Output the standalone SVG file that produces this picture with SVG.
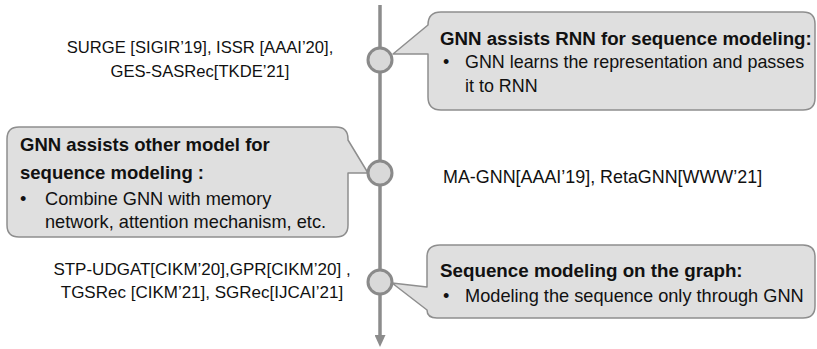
<svg xmlns="http://www.w3.org/2000/svg" width="817" height="349" viewBox="0 0 817 349">
<defs>
<style>
.call{fill:#dfdfdf;stroke:#8e8e8e;stroke-width:1.5;stroke-linejoin:round}
.dot{fill:#d9d9d9;stroke:#8a8a8a;stroke-width:3}
.axis{stroke:#8c8c8c;stroke-width:3.5;fill:none}
text{font-family:"Liberation Sans",Arial,sans-serif;fill:#111}
.b{font-weight:bold}
.m{text-anchor:middle}
</style>
<marker id="arr" viewBox="0 0 12 11" markerUnits="userSpaceOnUse" markerWidth="12" markerHeight="11" refX="1" refY="5.5" orient="auto">
<path d="M0,0 L12,5.5 L0,11 z" fill="#8c8c8c"/>
</marker>
</defs>
<rect width="817" height="349" fill="#ffffff"/>
<g id="connectors">
<line class="axis" x1="380" y1="5" x2="380" y2="336" marker-end="url(#arr)"/>
</g>
<g id="callout-rnn">
<path class="call" d="M441,12 H803 Q815,12 815,24 V98 Q815,110 803,110 H441 Q428,110 428,97 V54 L393,54 L428,25 Q428,12 441,12 Z"/>
<text class="b" x="440" y="45" font-size="18.7">GNN assists RNN for sequence modeling:</text>
<text x="443" y="68" font-size="17.9">•</text>
<text x="465" y="68" font-size="17.9">GNN learns the representation and passes</text>
<text x="465" y="92" font-size="17.9">it to RNN</text>
</g>
<g id="callout-other">
<path class="call" d="M19,127 H336 Q348,127 348,139 V140 L368,173 L348,173 V225 Q348,237 336,237 H19 Q7,237 7,225 V139 Q7,127 19,127 Z"/>
<text class="b" x="20" y="151" font-size="18.5">GNN assists other model for</text>
<text class="b" x="20" y="179" font-size="18.5">sequence modeling :</text>
<text x="20" y="205" font-size="18.2">•</text>
<text x="45" y="205" font-size="18.2">Combine GNN with memory</text>
<text x="45" y="228" font-size="18.2">network, attention mechanism, etc.</text>
</g>
<g id="callout-graph">
<path class="call" d="M440,245 H803 Q815,245 815,257 V306 Q815,318 803,318 H437 Q427,318 427,310 L392,283 L427,287 V257 Q427,245 440,245 Z"/>
<text class="b" x="440" y="277" font-size="18.8">Sequence modeling on the graph:</text>
<text x="443" y="302" font-size="18.2">•</text>
<text x="465" y="302" font-size="18.2">Modeling the sequence only through GNN</text>
</g>
<g id="node-1">
<circle class="dot" cx="380" cy="60" r="12"/>
</g>
<g id="node-2">
<circle class="dot" cx="380" cy="173" r="12"/>
</g>
<g id="node-3">
<circle class="dot" cx="380" cy="282" r="12"/>
</g>
<g id="label-1">
<text class="m" x="200" y="53" font-size="16.6">SURGE [SIGIR’19], ISSR [AAAI’20],</text>
<text class="m" x="200" y="77" font-size="16.6">GES-SASRec[TKDE’21]</text>
</g>
<g id="label-2">
<text x="443" y="183" font-size="17.9">MA-GNN[AAAI’19], RetaGNN[WWW’21]</text>
</g>
<g id="label-3">
<text class="m" x="202" y="275" font-size="17">STP-UDGAT[CIKM’20],GPR[CIKM’20] ,</text>
<text class="m" x="202" y="298" font-size="17">TGSRec [CIKM’21], SGRec[IJCAI’21]</text>
</g>
</svg>
